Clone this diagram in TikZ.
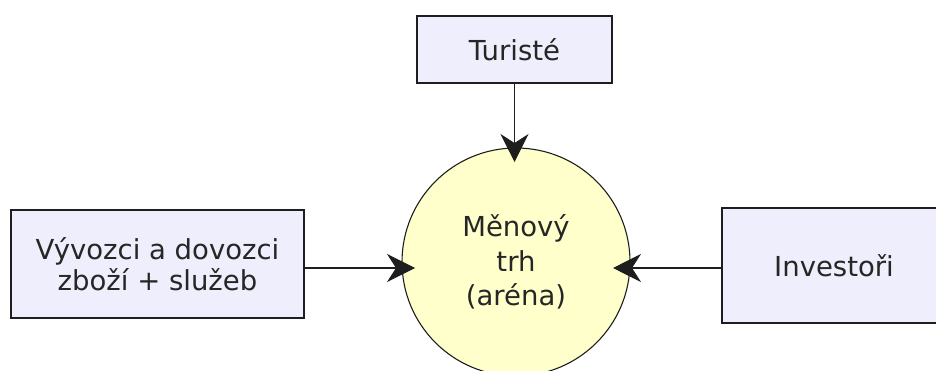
\documentclass[tikz,border=0pt]{standalone}
\usepackage{fontspec}
\setmainfont{DejaVu Sans}
\usetikzlibrary{arrows.meta}
\definecolor{boxfill}{RGB}{238,238,252}
\definecolor{circfill}{RGB}{255,255,204}
\definecolor{edge}{RGB}{30,30,30}
\tikzset{
  actor/.style={draw=edge, line width=1.2pt, fill=boxfill, rectangle, inner sep=0pt,
    align=center, text=black!85, font=\fontsize{27.5}{31.5}\selectfont},
  market/.style={draw=edge, line width=1.1pt, fill=circfill, circle, inner sep=0pt,
    minimum size=228pt, align=center, text=black!85, font=\fontsize{27.5}{34.5}\selectfont},
  arr/.style={draw=edge, line width=1.1pt, -{Stealth[length=28pt,width=28pt,inset=9pt]}}
}
\begin{document}
\begin{tikzpicture}[x=1pt,y=-1pt]
  \useasboundingbox (0,0) rectangle (936,371);
  \clip (0,0) rectangle (936,371);
  \node[market] (mkt) at (516,262) {Měnový\\trh\\(aréna)};
  \node[actor, minimum width=195pt, minimum height=67pt] (tur) at (514.5,49.5) {Turisté};
  \node[actor, minimum width=293pt, minimum height=108pt] (vyv) at (157.5,264) {Vývozci a dovozci\\zboží + služeb};
  \node[actor, minimum width=224pt, minimum height=115pt] (inv) at (834,265.5) {Investoři};
  \coordinate (tipT) at (513,162);
  \coordinate (tipL) at (415,268);
  \coordinate (tipR) at (613,268);
  \draw[arr] (tur.south) -- (tur.south |- tipT);
  \draw[arr] (vyv.east |- tipL) -- (tipL);
  \draw[arr] (inv.west |- tipR) -- (tipR);
\end{tikzpicture}
\end{document}
